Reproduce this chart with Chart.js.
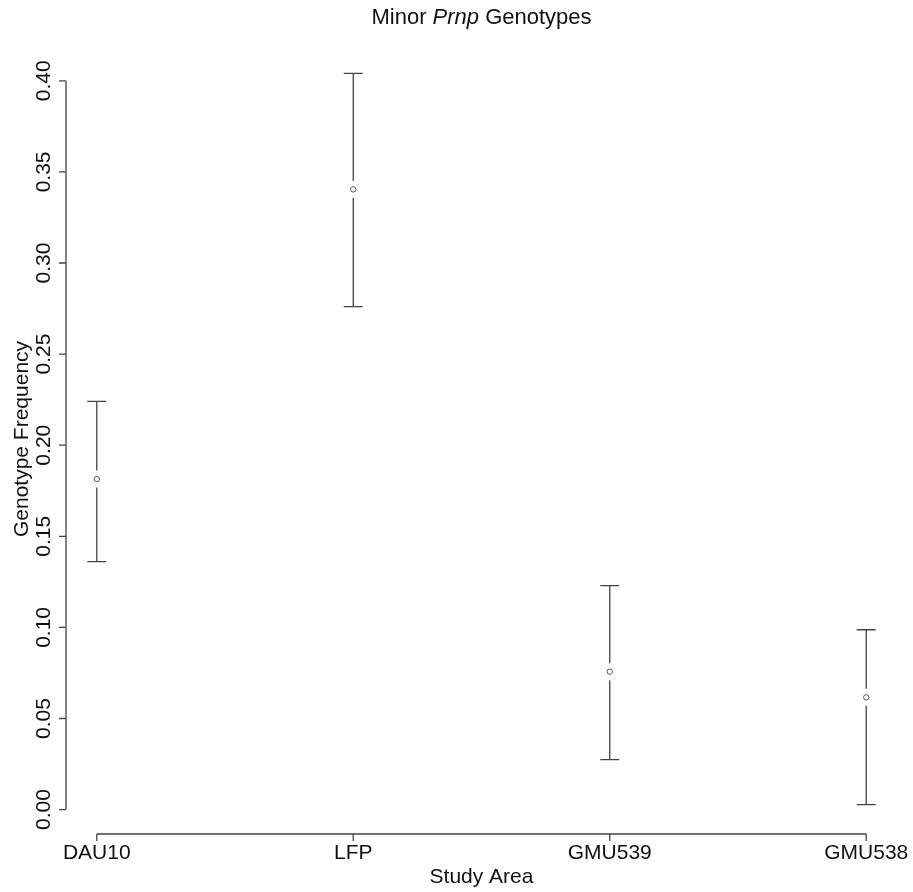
<!DOCTYPE html>
<html>
<head>
<meta charset="utf-8">
<script src="https://cdn.jsdelivr.net/npm/chart.js@4.4.1/dist/chart.umd.min.js"></script>
<style>
  body { margin: 0; background: #fff; }
  #wrap { width: 913px; height: 892px; }
</style>
</head>
<body>
<div id="wrap"><canvas id="chart" width="913" height="892"></canvas></div>
<script>
// data
const areas = ['DAU10', 'LFP', 'GMU539', 'GMU538'];
const freq = [0.1814, 0.3404, 0.0757, 0.0616];
const upper = [0.2240, 0.4041, 0.1229, 0.0987];
const lower = [0.1361, 0.2761, 0.0274, 0.0027];
const yTicks = [0.00, 0.05, 0.10, 0.15, 0.20, 0.25, 0.30, 0.35, 0.40];

const FONT = '"Liberation Sans", Arial, sans-serif';
const INK = '#444';

// R style axes, error bars and titles
const rPlot = {
    id: 'rPlot',
    beforeDatasetsDraw(chart) {
        const ctx = chart.ctx;
        const xs = chart.scales.x, ys = chart.scales.y;
        ctx.save();
        ctx.strokeStyle = INK;
        ctx.lineWidth = 1.3;
        for (let i = 0; i < areas.length; i++) {
            const x = xs.getPixelForValue(i + 1);
            const yp = ys.getPixelForValue(freq[i]);
            const yu = ys.getPixelForValue(upper[i]);
            const yl = ys.getPixelForValue(lower[i]);
            const gap = 8.5, cap = 9.5;
            ctx.beginPath();
            ctx.moveTo(x, yu); ctx.lineTo(x, yp - gap);
            ctx.moveTo(x, yp + gap); ctx.lineTo(x, yl);
            ctx.moveTo(x - cap, yu); ctx.lineTo(x + cap, yu);
            ctx.moveTo(x - cap, yl); ctx.lineTo(x + cap, yl);
            ctx.stroke();
        }
        ctx.restore();
    },
    afterDraw(chart) {
        const ctx = chart.ctx;
        const xs = chart.scales.x, ys = chart.scales.y;
        const area = chart.chartArea;
        ctx.save();
        ctx.strokeStyle = INK;
        ctx.lineWidth = 1.3;
        ctx.fillStyle = '#111';

        // y axis
        const ax = area.left;
        ctx.beginPath();
        ctx.moveTo(ax, ys.getPixelForValue(yTicks[0]));
        ctx.lineTo(ax, ys.getPixelForValue(yTicks[yTicks.length - 1]));
        yTicks.forEach(v => {
            const y = ys.getPixelForValue(v);
            ctx.moveTo(ax, y); ctx.lineTo(ax - 7, y);
        });
        ctx.stroke();
        ctx.font = '21px ' + FONT;
        ctx.textAlign = 'center';
        ctx.textBaseline = 'middle';
        yTicks.forEach(v => {
            const y = ys.getPixelForValue(v);
            ctx.save();
            ctx.translate(44, y);
            ctx.rotate(-Math.PI / 2);
            ctx.fillText(v.toFixed(2), 0, 0);
            ctx.restore();
        });

        // x axis
        const by = area.bottom;
        ctx.beginPath();
        ctx.moveTo(xs.getPixelForValue(1), by);
        ctx.lineTo(xs.getPixelForValue(areas.length), by);
        areas.forEach((a, i) => {
            const x = xs.getPixelForValue(i + 1);
            ctx.moveTo(x, by); ctx.lineTo(x, by + 7);
        });
        ctx.stroke();
        areas.forEach((a, i) => {
            ctx.fillText(a, xs.getPixelForValue(i + 1), 853);
        });

        // axis titles
        const cx = (area.left + area.right) / 2;
        ctx.fillText('Study Area', cx, 877);
        ctx.save();
        ctx.translate(22, (area.top + area.bottom) / 2);
        ctx.rotate(-Math.PI / 2);
        ctx.fillText('Genotype Frequency', 0, 0);
        ctx.restore();

        // main title with italic gene name
        const parts = [['Minor ', ''], ['Prnp', 'italic '], [' Genotypes', '']];
        let w = 0;
        parts.forEach(p => { ctx.font = p[1] + '22px ' + FONT; w += ctx.measureText(p[0]).width; });
        let tx = cx - w / 2;
        ctx.textAlign = 'left';
        parts.forEach(p => {
            ctx.font = p[1] + '22px ' + FONT;
            ctx.fillText(p[0], tx, 18);
            tx += ctx.measureText(p[0]).width;
        });
        ctx.restore();
    }
};

new Chart(document.getElementById('chart'), {
    type: 'scatter',
    data: {
        datasets: [{
            data: areas.map((a, i) => ({ x: i + 1, y: freq[i] })),
            pointStyle: 'circle',
            pointRadius: 2.7,
            pointBorderWidth: 1,
            pointBorderColor: '#555',
            pointBackgroundColor: '#fff'
        }]
    },
    options: {
        responsive: false,
        animation: false,
        layout: { padding: { left: 66, right: 16, top: 44, bottom: 58 } },
        plugins: { legend: { display: false }, tooltip: { enabled: false } },
        scales: {
            x: { type: 'linear', min: 0.88, max: 4.12, display: false },
            y: { type: 'linear', min: -0.0134, max: 0.4202, display: false }
        }
    },
    plugins: [rPlot]
});
</script>
</body>
</html>
